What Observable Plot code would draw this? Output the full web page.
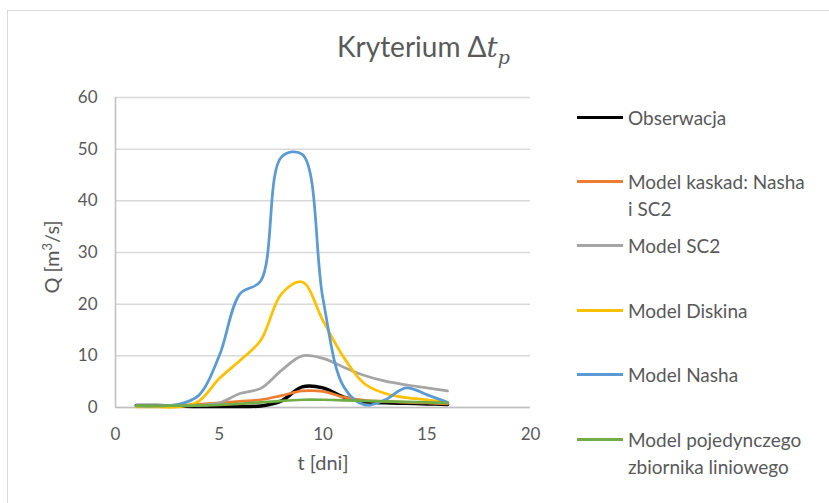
<!DOCTYPE html>
<html>
<head>
<meta charset="utf-8">
<script src="https://cdn.jsdelivr.net/npm/d3@7"></script>
<script src="https://cdn.jsdelivr.net/npm/@observablehq/plot@0.6"></script>
<style>
  html, body { margin: 0; padding: 0; background: #fff; }
  #chart { position: relative; width: 829px; height: 503px; overflow: hidden; font-family: Lato, "Open Sans", sans-serif; color: #595959; }
  #frame { position: absolute; left: 7px; top: 10px; width: 900px; height: 600px; border: 1.5px solid #d9d9d9; box-sizing: border-box; }
  #chart svg { position: absolute; left: 0; top: 0; }
  #title { position: absolute; left: 0; width: 847px; top: 28px; text-align: center; font-size: 28px; line-height: 36px; white-space: nowrap; }
  #title .m { font-family: "DejaVu Serif", "Liberation Serif", serif; font-style: italic; }
  #title sub { font-size: 19px; vertical-align: -7px; line-height: 0; }
  .leg { position: absolute; left: 577px; display: flex; align-items: flex-start; font-size: 19px; line-height: 27px; }
  .leg .sw { width: 46px; height: 3px; margin-top: 12px; margin-right: 5px; flex: none; }
</style>
</head>
<body>
<div id="chart">
  <div id="frame"></div>
  <div id="title">Kryterium Δ<span class="m">t<sub>p</sub></span></div>
</div>
<script>
// Czas [dni]
const t = [1, 2, 3, 4, 5, 6, 7, 8, 9, 10, 11, 12, 13, 14, 15, 16];

// Przepływy Q [m3/s]
const obserwacja = [0.4, 0.4, 0.3, 0.2, 0.2, 0.2, 0.3, 1.3, 4.0, 3.8, 2.0, 1.1, 0.9, 0.8, 0.7, 0.6];
const kaskadNashaSC2 = [0.3, 0.3, 0.4, 0.6, 0.9, 1.2, 1.5, 2.3, 3.2, 3.1, 2.0, 1.4, 1.2, 1.0, 0.9, 0.7];
const modelSC2 = [0.3, 0.3, 0.3, 0.4, 0.9, 2.7, 3.7, 7.2, 10.0, 9.5, 7.8, 6.2, 5.1, 4.4, 3.8, 3.2];
const modelDiskina = [0.1, 0.1, 0.1, 1.2, 5.6, 9.1, 13.0, 22.0, 24.3, 16.8, 9.7, 4.6, 2.7, 1.9, 1.5, 1.0];
const modelNasha = [0.3, 0.3, 0.6, 2.3, 10.0, 22.0, 24.5, 48.5, 49.0, 21.0, 4.0, 0.5, 1.5, 3.8, 2.5, 1.0];
const zbiornikLiniowy = [0.3, 0.3, 0.35, 0.4, 0.5, 0.7, 1.0, 1.3, 1.5, 1.5, 1.4, 1.3, 1.2, 1.1, 1.0, 0.9];

const seriesNames = [
  "Obserwacja",
  "Model kaskad: Nasha\ni SC2",
  "Model SC2",
  "Model Diskina",
  "Model Nasha",
  "Model pojedynczego\nzbiornika liniowego"
];
const seriesValues = [obserwacja, kaskadNashaSC2, modelSC2, modelDiskina, modelNasha, zbiornikLiniowy];
const seriesColors = ["#000000", "#ED7D31", "#A5A5A5", "#FFC000", "#5B9BD5", "#70AD47"];
const seriesWidths = [3.5, 2.75, 2.75, 2.75, 2.75, 2.75];

const xTicks = [0, 5, 10, 15, 20];
const yTicks = [0, 10, 20, 30, 40, 50, 60];

const rows = seriesValues.map(vals => t.map((d, i) => ({t: d, q: vals[i]})));

const plot = Plot.plot({
  width: 829,
  height: 503,
  marginLeft: 115,
  marginRight: 299,
  marginTop: 97,
  marginBottom: 96,
  style: {fontFamily: "Lato, 'Open Sans', sans-serif", background: "transparent", overflow: "visible"},
  x: {domain: [0, 20], label: null},
  y: {domain: [0, 60], label: null},
  marks: [
    Plot.gridY(yTicks, {stroke: "#d9d9d9", strokeOpacity: 1, strokeWidth: 1.5}),
    Plot.ruleX([0], {stroke: "#bfbfbf", strokeWidth: 1.5}),
    Plot.ruleY([0], {stroke: "#bfbfbf", strokeWidth: 1.5}),
    Plot.axisX(xTicks, {tickSize: 0, tickPadding: 20, fontSize: 17, color: "#595959",
      label: "t [dni]", labelAnchor: "center", labelArrow: "none", labelOffset: 62}),
    Plot.axisY(yTicks, {tickSize: 0, tickPadding: 18, fontSize: 17, color: "#595959", label: null}),
    // smoothed lines, drawn in series order so the last one sits on top
    ...rows.map((data, i) => Plot.line(data, {
      x: "t", y: "q", curve: "catmull-rom",
      stroke: seriesColors[i], strokeWidth: seriesWidths[i],
      strokeLinejoin: "round", strokeLinecap: "round"
    }))
  ]
});

// Y axis title with superscript
const svg = d3.select(plot);
const yTitle = svg.append("text")
  .attr("transform", "translate(59,257) rotate(-90)")
  .attr("text-anchor", "middle")
  .attr("fill", "#595959")
  .attr("font-size", 20)
  .attr("font-family", "Lato, 'Open Sans', sans-serif");
yTitle.append("tspan").text("Q [m");
yTitle.append("tspan").attr("font-size", 13).attr("dy", -7).text("3");
yTitle.append("tspan").attr("dy", 7).text("/s]");
svg.selectAll("[aria-label='x-axis label'] text").attr("font-size", 20);

const chart = document.getElementById("chart");
chart.insertBefore(plot, document.getElementById("title"));

// Legend
seriesNames.forEach((name, i) => {
  const item = document.createElement("div");
  item.className = "leg";
  item.style.top = (103.5 + i * 64.4) + "px";
  const sw = document.createElement("div");
  sw.className = "sw";
  sw.style.background = seriesColors[i];
  const label = document.createElement("div");
  label.innerHTML = name.split("\n").join("<br>");
  item.appendChild(sw);
  item.appendChild(label);
  chart.appendChild(item);
});
</script>
</body>
</html>
